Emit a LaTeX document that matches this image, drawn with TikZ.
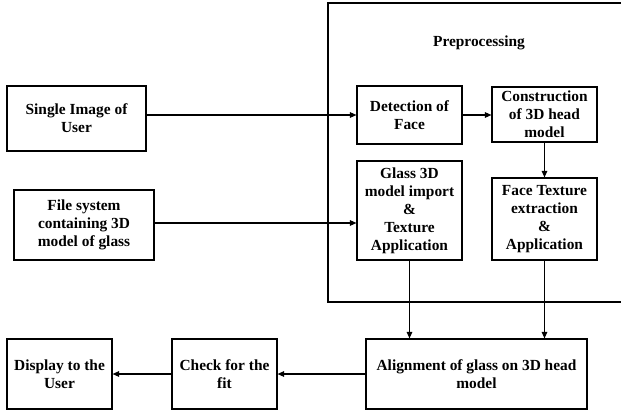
\documentclass[tikz,border=0pt]{standalone}
\usepackage{fontspec}
\setmainfont{Liberation Serif}
\usetikzlibrary{arrows.meta}
\begin{document}
\begin{tikzpicture}[x=1pt,y=-1pt,
  box/.style={draw=black,line width=1.1pt,rectangle,inner sep=0pt,align=center,
    font=\fontsize{15.4}{18}\selectfont\bfseries},
  arr/.style={line width=1.1pt,-{Triangle[length=6.5pt,width=5.5pt]}},
  lbl/.style={font=\fontsize{15.4}{18}\selectfont\bfseries}]
\useasboundingbox (0,0) rectangle (621,413);
\draw[line width=1.1pt] (640,3) -- (328,3) -- (328,302) -- (640,302);
\node[lbl] (pre) at (479,43) {Preprocessing};
\node[box,minimum width=139pt,minimum height=65pt] (single) at (76.5,118.5) {Single Image of\\User};
\node[box,minimum width=140pt,minimum height=70pt] (filesys) at (84,225) {File system\\containing 3D\\model of glass};
\node[box,minimum width=105pt,minimum height=58pt] (detect) at (409.5,115) {Detection of\\Face};
\node[box,minimum width=105pt,minimum height=55pt] (constr) at (544.5,114.5) {Construction\\of 3D head\\model};
\node[box,minimum width=105pt,minimum height=99pt] (glass) at (409.5,210.5) {Glass 3D\\model import\\\&\\Texture\\Application};
\node[box,minimum width=105pt,minimum height=82pt] (face) at (544.5,219) {Face Texture\\extraction\\\&\\Application};
\node[box,minimum width=221pt,minimum height=70pt] (align) at (476.5,374) {Alignment of glass on 3D head\\model};
\node[box,minimum width=105pt,minimum height=70pt] (check) at (224.5,374) {Check for the\\fit};
\node[box,minimum width=105pt,minimum height=70pt] (display) at (59.5,374) {Display to the\\User};
\draw[arr] (detect.west -| single.east) -- (detect.west);
\draw[arr] ([yshift=2pt]filesys.east) -- ([yshift=2pt]filesys.east -| glass.west);
\draw[arr] (detect.east) -- (detect.east -| constr.west);
\draw[arr] (constr.south) -- (face.north);
\draw[arr] (glass.south) -- (glass.south |- align.north);
\draw[arr] (face.south) -- (face.south |- align.north);
\draw[arr] (align.west) -- (check.east);
\draw[arr] (check.west) -- (display.east);
\end{tikzpicture}
\end{document}
